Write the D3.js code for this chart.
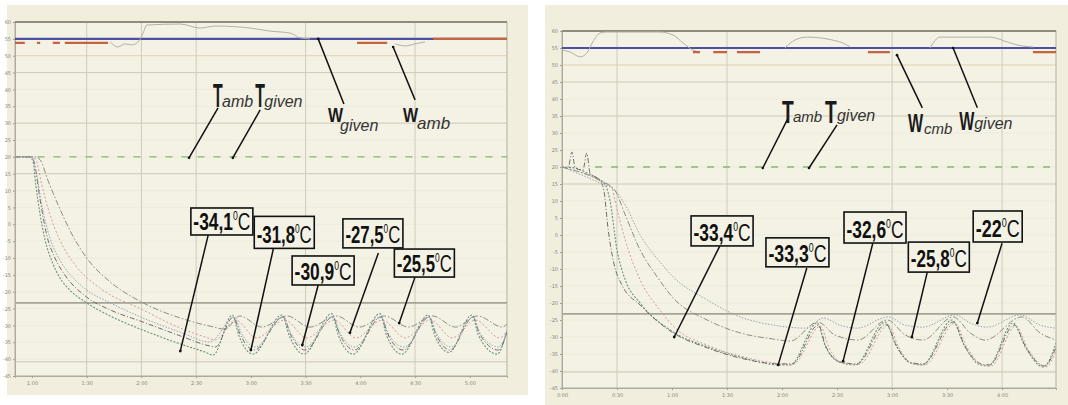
<!DOCTYPE html>
<html><head><meta charset="utf-8">
<script src="https://cdn.jsdelivr.net/npm/d3@7"></script>
<style>body{margin:0;background:#fff;}svg{display:block;}</style>
</head><body>
<script>
// ================= DATA =================
const yTicks = [60,55,50,45,40,35,30,25,20,15,10,5,0,-5,-10,-15,-20,-25,-30,-35,-40,-45];
const xTicks = [0,1,2,3,4,5,6,7,8];
const leftXLabels  = ["1:00","1:30","2:00","2:30","3:00","3:30","4:00","4:30","5:00"];
const rightXLabels = ["0:00","0:30","1:00","1:30","2:00","2:30","3:00","3:30","4:00"];

const setTemp = 20;      // T given / T amb
const setHum = 55;       // W given

// ---- left panel ----
const leftWamb = [[-0.31,53.8],[-0.13,53.8],null,[0.09,53.8],[0.15,53.8],null,[0.38,53.8],[0.51,53.8],null,[0.6,53.8],[1.39,53.8],null,[5.94,53.8],[6.49,53.8],null,[7.33,55],[8.68,55]];
const leftWmeas = [[1.43,54.1],[1.57,52.6],[1.70,53.5],[1.83,53.2],[1.97,54.7],[2.03,56.7],[2.10,59.1],[2.71,59.4],[3.07,58.2],[3.35,58.8],[3.99,58.2],[4.35,57.3],[4.72,56.7],[4.90,55.3],[5.08,55.0],null,[6.64,53.5],[6.82,52.9],[7.0,53.5],[7.18,54.1]];
const leftC1 = [[-0.31,20],[-0.04,20],[0.02,18.5],[0.07,11.7],[0.15,2.8],[0.24,-4.7],[0.37,-11.2],[0.51,-15.9],[0.69,-19.5],[1.0,-23.3],[1.43,-27.2],[2.03,-31.4],[2.71,-35.5],[3.16,-37.9],[3.31,-38.8],[3.66,-26.9],[3.78,-33.0],[4.04,-38.5],[4.57,-26.9],[4.70,-33.0],[4.97,-38.5],[5.48,-26.5],[5.60,-33.0],[5.87,-38.5],[6.36,-26.5],[6.48,-33.0],[6.76,-38.5],[7.24,-26.9],[7.36,-33.0],[7.62,-38.0],[8.04,-26.9],[8.16,-33.0],[8.50,-38.5],[8.68,-31.4]];
const leftC2 = [[-0.31,20],[0,20],[0.05,17.6],[0.15,7.2],[0.27,-3.2],[0.42,-10.0],[0.60,-15.0],[1.0,-21.6],[1.43,-25.4],[2.03,-29.0],[2.71,-33.1],[3.25,-36.1],[3.35,-36.4],[3.68,-27.5],[3.80,-32.5],[4.06,-37.3],[4.59,-27.5],[4.72,-32.5],[4.99,-37.3],[5.50,-27.5],[5.62,-32.5],[5.89,-37.3],[6.38,-27.5],[6.50,-32.5],[6.78,-37.3],[7.26,-27.5],[7.38,-32.5],[7.64,-37.3],[8.06,-27.5],[8.18,-32.5],[8.52,-37.3],[8.68,-32.0]];
const leftC3 = [[-0.31,20],[0.02,20],[0.09,18.2],[0.18,11.7],[0.33,2.8],[0.51,-4.7],[0.79,-12.1],[1.24,-18.9],[2.03,-25.4],[2.71,-30.8],[3.16,-33.4],[3.35,-34.3],[3.72,-28.4],[4.10,-33.7],[4.62,-28.4],[5.02,-33.7],[5.52,-28.4],[5.92,-33.7],[6.40,-28.4],[6.82,-33.7],[7.28,-28.4],[7.68,-33.7],[8.10,-28.4],[8.55,-33.7],[8.68,-31.5]];
const leftC4 = [[-0.31,20],[0.05,20],[0.15,19.1],[0.29,13.1],[0.48,5.7],[0.69,-1.7],[1.0,-10.0],[1.43,-17.1],[2.03,-23.3],[2.71,-27.8],[3.25,-30.2],[3.53,-31.1],[3.80,-27.2],[4.20,-30.5],[4.66,-27.2],[5.08,-30.5],[5.56,-27.2],[5.98,-30.5],[6.44,-27.2],[6.88,-30.5],[7.32,-27.2],[7.74,-30.5],[8.14,-27.2],[8.60,-30.5],[8.68,-29.5]];
const leftC5 = [[-0.31,20],[0,20],[0.07,16.1],[0.18,5.7],[0.33,-4.1],[0.51,-10.6],[0.79,-16.5],[1.0,-19.5],[1.43,-23.3],[2.03,-27.8],[2.71,-32.0],[3.25,-34.9],[3.70,-27.5],[3.82,-32.0],[4.08,-36.4],[4.60,-27.5],[4.72,-32.0],[5.00,-36.4],[5.50,-27.5],[5.62,-32.0],[5.90,-36.4],[6.38,-27.5],[6.50,-32.0],[6.80,-36.4],[7.26,-27.5],[7.38,-32.0],[7.66,-36.4],[8.06,-27.5],[8.18,-32.0],[8.52,-36.4],[8.68,-32.0]];

// ---- right panel ----
const rightWamb = [[2.38,53.8],[2.51,53.8],null,[2.75,53.8],[3.0,53.8],null,[3.18,53.8],[3.6,53.8],null,[5.56,53.8],[5.96,53.8],null,[8.56,53.8],[8.98,53.8]];
const rightWmeas = [[0,54.4],[0.15,53.8],[0.33,52.4],[0.45,53.5],[0.56,56.8],[0.69,59.4],[0.8,59.7],[1.78,59.7],[2.02,58.8],[2.2,56.5],[2.38,54.4],[2.51,53.8],null,[4.05,55],[4.24,57.4],[4.45,58.2],[5.05,56.8],[5.24,55.3],null,[6.69,55.0],[6.87,58.2],[7.78,58.2],[8.09,56.8],[8.27,55.9],[8.56,55.3]];
const rightC1 = [[0,20],[0.24,19.7],[0.42,18.5],[0.69,16.2],[0.78,15.0],[0.87,10.3],[1.0,-4.4],[1.15,-13.2],[1.42,-20.0],[2.02,-28.5],[2.64,-32.9],[3.24,-35.9],[3.96,-38.2],[4.15,-38.2],[4.64,-25.9],[4.78,-32.4],[5.05,-37.4],[5.33,-38.2],[5.87,-25.6],[6.07,-32.4],[6.33,-37.6],[6.55,-38.2],[7.09,-25.0],[7.31,-32.4],[7.6,-38.2],[7.75,-38.5],[8.2,-25.9],[8.42,-32.9],[8.75,-38.8],[8.98,-31.8]];
const rightC2 = [[0,20],[0.11,19.7],[0.18,24.4],[0.24,19.7],[0.38,19.1],[0.45,24.1],[0.51,18.2],[0.69,16.0],[0.76,13.2],[0.84,1.5],[0.95,-8.8],[1.09,-14.7],[1.42,-20.6],[2.02,-28.8],[2.64,-33.2],[3.24,-36.2],[3.96,-37.9],[4.18,-37.9],[4.66,-26.5],[4.80,-32.9],[5.07,-37.4],[5.36,-37.9],[5.89,-26.2],[6.09,-32.9],[6.35,-37.6],[6.57,-37.9],[7.11,-25.6],[7.33,-32.9],[7.62,-37.9],[7.77,-38.2],[8.22,-26.5],[8.44,-33.2],[8.77,-38.5],[8.98,-33.0]];
const rightC3 = [[0,20],[0.69,16.0],[0.91,13.8],[0.96,10.3],[1.15,-1.5],[1.42,-13.2],[1.78,-22.1],[2.04,-27.1],[2.64,-32.4],[3.24,-35.6],[3.84,-37.6],[4.2,-38.0],[4.70,-26.8],[4.85,-33.0],[5.10,-37.6],[5.40,-38.0],[5.93,-26.5],[6.12,-33.0],[6.38,-37.9],[6.60,-38.2],[7.14,-25.9],[7.36,-33.0],[7.64,-38.2],[7.80,-38.5],[8.25,-26.8],[8.47,-33.5],[8.8,-38.8],[8.98,-34.0]];
const rightC4 = [[0,20],[0.69,16.0],[0.96,13.2],[1.15,5.9],[1.42,-4.4],[1.73,-12.3],[2.02,-18.5],[2.64,-25.0],[3.24,-28.8],[3.84,-30.6],[4.15,-31.2],[4.65,-25.6],[4.96,-29.4],[5.38,-30.9],[5.91,-25.0],[6.24,-29.4],[6.56,-30.9],[7.11,-24.1],[7.42,-28.8],[7.69,-30.9],[8.36,-24.1],[8.69,-28.8],[8.98,-30.9]];
const rightC5 = [[0,20],[0.69,15.3],[0.96,13.2],[1.15,8.8],[1.42,0.0],[1.78,-7.9],[2.02,-12.3],[2.64,-19.1],[3.24,-24.1],[3.84,-26.5],[4.45,-27.4],[4.75,-24.4],[5.05,-26.5],[5.36,-27.4],[5.93,-24.1],[6.24,-26.5],[6.56,-27.1],[7.15,-23.5],[7.42,-25.9],[7.73,-27.1],[8.33,-23.5],[8.69,-26.5],[8.98,-27.4]];

const leftNoteTexts  = ["-34,1","-31,8","-30,9","-27,5","-25,5"];
const rightNoteTexts = ["-33,4","-33,3","-32,6","-25,8","-22"];

// ================= LAYOUT / STYLE =================
const curveStyles = [
  {stroke:"#6a9278", dash:"2,1.5", w:1.1},
  {stroke:"#6e6e6a", dash:"5,2,1,2", w:1.0},
  {stroke:"#d29aa3", dash:"2,2", w:1.0},
  {stroke:"#8e8d84", dash:"6,2,1.5,2", w:1.0},
  {stroke:"#9aa3b4", dash:"1.5,1.5", w:1.0}
];

const panels = [
  {
    bg:[7,5,521,390], x0:15, x1:507, y0:22, y1:376, xDomain:[-0.31,8.68],
    xLabels:leftXLabels, hGrid:[45,30,15], tanGrid:50, darkLine:-23.3, lowLine:-40.8, vGrid:[1,2,3,5,7],
    greenFrom:0.1,
    Wamb:leftWamb, Wmeas:leftWmeas, curves:[leftC1,leftC2,leftC3,leftC4,leftC5],
    noteTexts:leftNoteTexts,
    notes:[
      {box:[3.47,0.83],w:62,h:27,from:[3.22,-3.2],to:[2.71,-37.6]},
      {box:[4.61,-2.4],w:60,h:32,from:[4.41,-7.3],to:[4.0,-37.3]},
      {box:[5.32,-13.7],w:62,h:29,from:[5.23,-18.0],to:[4.94,-35.8]},
      {box:[6.23,-2.7],w:60,h:29,from:[6.33,-8.5],to:[5.81,-32.2]},
      {box:[7.17,-11.5],w:60,h:28,from:[7.0,-15.6],to:[6.71,-29.3]}
    ],
    tops:[
      {main:"T",sub:"amb",at:[3.31,34.8],mfs:33,msx:0.48,sfs:16,sdx:9,sdy:0,from:[3.40,34.5],to:[2.87,19.7]},
      {main:"T",sub:"given",at:[4.08,34.8],mfs:33,msx:0.48,sfs:16,sdx:9,sdy:0,from:[4.17,33.9],to:[3.67,19.7]},
      {main:"W",sub:"given",at:[5.41,30.3],mfs:21,msx:0.76,sfs:16,sdx:12,sdy:9,from:[5.70,35.7],to:[5.23,55.0]},
      {main:"W",sub:"amb",at:[6.78,30.3],mfs:21,msx:0.76,sfs:17,sdx:14,sdy:7,from:[7.0,36.9],to:[6.6,52.6]}
    ]
  },
  {
    bg:[545,5,523,400], x0:562, x1:1056, y0:31, y1:388, xDomain:[0,8.98],
    xLabels:rightXLabels, hGrid:[45,35,15], tanGrid:50, darkLine:-23.2, lowLine:-40.3, vGrid:[1,3,6,8],
    greenFrom:0.6,
    Wamb:rightWamb, Wmeas:rightWmeas, curves:[rightC1,rightC2,rightC3,rightC4,rightC5],
    noteTexts:rightNoteTexts,
    notes:[
      {box:[2.91,1.2],w:62,h:30,from:[2.87,-3.2],to:[2.04,-30.0]},
      {box:[4.28,-5.1],w:63,h:29,from:[4.45,-9.7],to:[3.93,-38.2]},
      {box:[5.69,2.2],w:62,h:31,from:[5.65,-2.4],to:[5.11,-37.1]},
      {box:[6.85,-6.5],w:61,h:30,from:[6.64,-10.9],to:[6.36,-30.0]},
      {box:[7.92,2.5],w:49,h:31,from:[8.0,-2.4],to:[7.55,-25.9]}
    ],
    tops:[
      {main:"T",sub:"amb",at:[4.0,32.9],mfs:32,msx:0.6,sfs:15,sdx:11,sdy:-1,from:[4.11,34.4],to:[3.65,19.7]},
      {main:"T",sub:"given",at:[4.78,32.9],mfs:32,msx:0.6,sfs:16,sdx:12,sdy:-2,from:[5.0,32.4],to:[4.49,19.7]},
      {main:"W",sub:"cmb",at:[6.29,30.3],mfs:25,msx:0.64,sfs:15,sdx:16,sdy:2,from:[6.55,37.4],to:[6.09,52.9]},
      {main:"W",sub:"given",at:[7.22,30.9],mfs:25,msx:0.64,sfs:16,sdx:15,sdy:-1,from:[7.55,37.4],to:[7.11,55.0]}
    ]
  }
];

// ================= DRAW =================
const svg = d3.select("body").append("svg").attr("width",1068).attr("height",405);
svg.append("rect").attr("width",1068).attr("height",405).attr("fill","#ffffff");

panels.forEach((p,pi) => {
  const g = svg.append("g");
  g.append("rect").attr("x",p.bg[0]).attr("y",p.bg[1]).attr("width",p.bg[2]).attr("height",p.bg[3]).attr("fill","#f1eedd");
  const x = d3.scaleLinear().domain(p.xDomain).range([p.x0,p.x1]);
  const y = d3.scaleLinear().domain([60,-45]).range([p.y0,p.y1]);
  g.append("rect").attr("x",p.x0).attr("y",p.y0).attr("width",p.x1-p.x0).attr("height",p.y1-p.y0).attr("fill","#f4f2e5");

  const clipId = "clip"+pi;
  svg.append("clipPath").attr("id",clipId).append("rect").attr("x",p.x0).attr("y",p.y0-4).attr("width",p.x1-p.x0).attr("height",p.y1-p.y0+4);

  // faint grid
  g.selectAll(null).data(yTicks).enter().append("line")
    .attr("x1",p.x0).attr("x2",p.x1).attr("y1",d=>y(d)).attr("y2",d=>y(d))
    .attr("stroke","#ebe8d8").attr("stroke-width",0.8);
  g.selectAll(null).data(p.hGrid).enter().append("line")
    .attr("x1",p.x0).attr("x2",p.x1).attr("y1",d=>y(d)).attr("y2",d=>y(d))
    .attr("stroke","#cfccbd").attr("stroke-width",1);
  g.append("line").attr("x1",p.x0).attr("x2",p.x1).attr("y1",y(p.tanGrid)).attr("y2",y(p.tanGrid))
    .attr("stroke","#e6d2b4").attr("stroke-width",1);
  g.selectAll(null).data(p.vGrid).enter().append("line")
    .attr("x1",d=>x(d)).attr("x2",d=>x(d)).attr("y1",p.y0).attr("y2",p.y1)
    .attr("stroke","#cfccbd").attr("stroke-width",1);
  g.append("line").attr("x1",p.x0).attr("x2",p.x1).attr("y1",y(p.darkLine)).attr("y2",y(p.darkLine))
    .attr("stroke","#a6a395").attr("stroke-width",1.6);
  g.append("line").attr("x1",p.x0).attr("x2",p.x1).attr("y1",y(p.lowLine)).attr("y2",y(p.lowLine))
    .attr("stroke","#c9c6b6").attr("stroke-width",1);

  // axes
  const xAxis = d3.axisBottom(x).tickValues(xTicks).tickSize(2).tickFormat((d,i)=>p.xLabels[i]);
  const gx = g.append("g").attr("transform",`translate(0,${p.y1})`).call(xAxis);
  const yAxis = d3.axisLeft(y).tickValues(yTicks).tickSize(2).tickFormat(d=>d);
  const gy = g.append("g").attr("transform",`translate(${p.x0},0)`).call(yAxis);
  [gx,gy].forEach(a=>{
    a.selectAll("text").attr("font-size",5).attr("fill","#8a887c").attr("font-family","DejaVu Sans");
    a.selectAll("line").attr("stroke","#9c9a8e");
    a.select(".domain").attr("stroke","#a8a698");
  });
  gy.selectAll("text").attr("x",-4);
  gx.selectAll("text").attr("y",5);
  // frame
  g.append("rect").attr("x",p.x0).attr("y",p.y0).attr("width",p.x1-p.x0).attr("height",p.y1-p.y0)
    .attr("fill","none").attr("stroke","#b3b0a2").attr("stroke-width",1);
  g.append("line").attr("x1",p.x0).attr("x2",p.x1).attr("y1",p.y0).attr("y2",p.y0)
    .attr("stroke","#8f8c7e").attr("stroke-width",2);

  const line = d3.line().defined(d=>d!==null).x(d=>x(d[0])).y(d=>y(d[1]));
  const cg = g.append("g").attr("clip-path",`url(#${clipId})`);

  // W given (blue)
  cg.append("path").datum([[p.xDomain[0],setHum],[p.xDomain[1],setHum]]).attr("d",line)
    .attr("stroke","#4d4fa3").attr("stroke-width",2.2).attr("fill","none");
  // W measured (gray)
  cg.append("path").datum(p.Wmeas).attr("d",line.curve(d3.curveMonotoneX))
    .attr("stroke","#b4b0a2").attr("stroke-width",1).attr("fill","none");
  // W amb (red segments)
  cg.append("path").datum(p.Wamb).attr("d",line.curve(d3.curveLinear))
    .attr("stroke","#c4653f").attr("stroke-width",2.2).attr("fill","none");
  // T given (green dashed)
  cg.append("path").datum([[p.greenFrom,setTemp],[p.xDomain[1],setTemp]]).attr("d",line)
    .attr("stroke","#86b873").attr("stroke-width",1.3).attr("stroke-dasharray","7,9").attr("fill","none");

  // temperature curves
  p.curves.forEach((c,i)=>{
    const s = curveStyles[i];
    cg.append("path").datum(c).attr("d",line.curve(d3.curveMonotoneX))
      .attr("stroke",s.stroke).attr("stroke-width",s.w).attr("stroke-dasharray",s.dash).attr("fill","none");
  });

  // annotations with boxes
  p.notes.forEach((n,i)=>{
    g.append("line").attr("x1",x(n.from[0])).attr("y1",y(n.from[1])).attr("x2",x(n.to[0])).attr("y2",y(n.to[1]))
      .attr("stroke","#111").attr("stroke-width",1.5);
    g.append("circle").attr("cx",x(n.to[0])).attr("cy",y(n.to[1])).attr("r",1.4).attr("fill","#111");
    const cx = x(n.box[0]), cy = y(n.box[1]);
    g.append("rect").attr("x",cx-n.w/2).attr("y",cy-n.h/2).attr("width",n.w).attr("height",n.h)
      .attr("fill","#f4f2e5").attr("stroke","#111").attr("stroke-width",1.6);
    const t = g.append("text").attr("font-family","Liberation Sans Narrow, Arial Narrow, Liberation Sans, sans-serif")
      .attr("font-size",24).attr("fill","#111");
    t.append("tspan").attr("font-weight","bold").text(p.noteTexts[i]);
    t.append("tspan").attr("font-size",12).attr("dy",-10).text("0");
    t.append("tspan").attr("dy",10).attr("font-weight","normal").text("C");
    const w = t.node().getComputedTextLength();
    const sc = (n.w-5)/w;
    t.attr("transform",`translate(${cx-(n.w-5)/2},${cy+n.h/2-5}) scale(${sc},1)`);
  });

  // top labels
  p.tops.forEach(l=>{
    g.append("line").attr("x1",x(l.from[0])).attr("y1",y(l.from[1])).attr("x2",x(l.to[0])).attr("y2",y(l.to[1]))
      .attr("stroke","#111").attr("stroke-width",1.5);
    g.append("circle").attr("cx",x(l.to[0])).attr("cy",y(l.to[1])).attr("r",1.3).attr("fill","#111");
    const bx = x(l.at[0]), by = y(l.at[1]);
    g.append("text").attr("transform",`translate(${bx},${by}) scale(${l.msx},1)`)
      .attr("font-family","Liberation Sans, Arial, sans-serif").attr("font-weight","bold")
      .attr("font-size",l.mfs).attr("fill","#1a1a1a").text(l.main);
    g.append("text").attr("x",bx+l.sdx).attr("y",by+l.sdy)
      .attr("font-family","Liberation Sans, Arial, sans-serif").attr("font-style","italic")
      .attr("font-size",l.sfs).attr("fill","#333").text(l.sub);
  });
});
</script>
</body></html>
